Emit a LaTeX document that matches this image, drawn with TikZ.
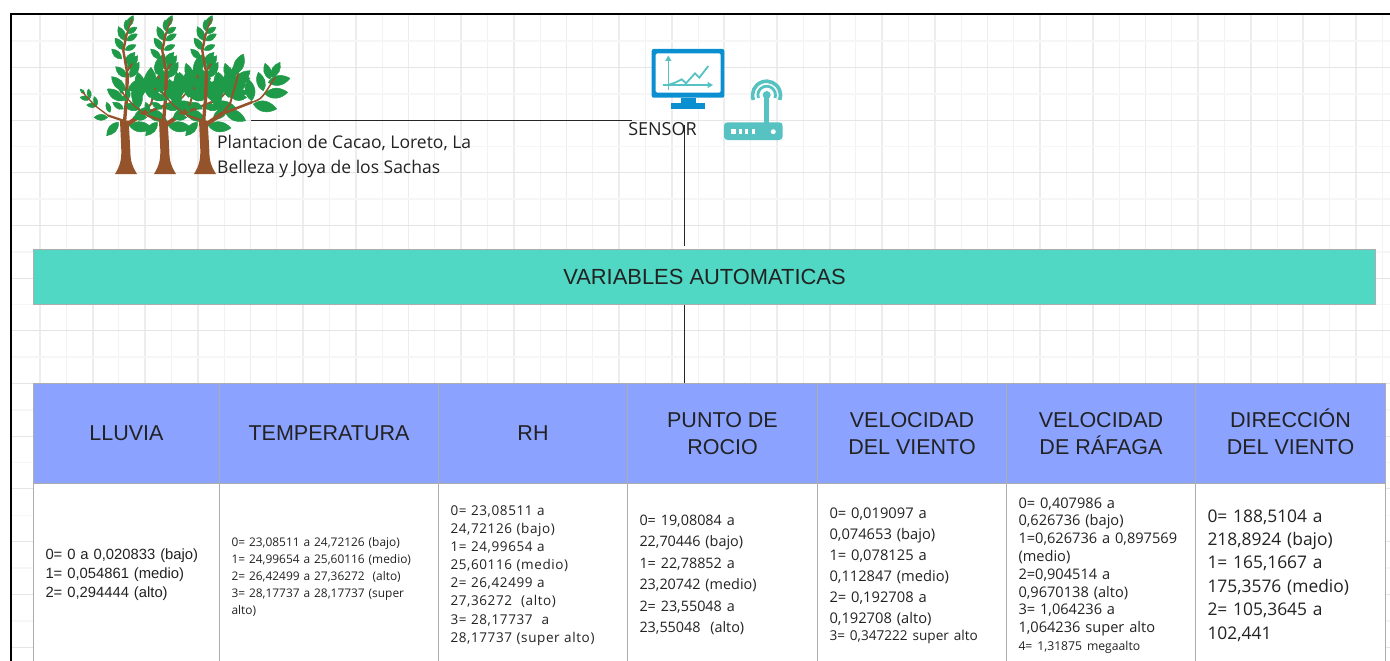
\documentclass[tikz,border=0pt]{standalone}
\usepackage{fontspec}
\setmainfont{Open Sans}
\newfontfamily\hfont{Liberation Sans}
\newfontfamily\bfont{Open Sans}
\newfontfamily\bwide[LetterSpace=4.5]{Open Sans}
\newcommand\fs[2]{\fontsize{#1pt}{#2pt}\selectfont}
\definecolor{leafc}{HTML}{1F9A48}
\definecolor{trunkc}{HTML}{95532B}
\definecolor{teal}{HTML}{50D8C5}
\definecolor{headc}{HTML}{8BA3FF}
\definecolor{edgec}{HTML}{ADADAD}
\definecolor{monc}{HTML}{0A8FD0}
\definecolor{routc}{HTML}{56C2C2}
\definecolor{txtc}{HTML}{222222}
\newcommand\lf[4]{%
  \pgfmathsetmacro\lfang{atan2(-(#4-(#2)),(#3-(#1)))}%
  \pgfmathsetmacro\lflen{veclen((#3-(#1)),(#4-(#2)))}%
  \filldraw[leafc,line width=.5pt,shift={(#1,#2)},rotate=\lfang,scale=\lflen]
    (0,0) .. controls (.3,.33) and (.7,.26) .. (1,0) .. controls (.7,-.26) and (.3,-.33) .. (0,0);}
\newcommand\cacao[1]{%
\begin{scope}[shift={(#1,174)},scale=.3333,line cap=round,line join=round]
  \lf{2}{-440}{22}{-475}\lf{2}{-430}{0}{-462}\lf{2}{-422}{33}{-440}
  \lf{-3}{-400}{-23}{-442}\lf{2}{-400}{34}{-420}\lf{-6}{-372}{-33}{-408}
  \lf{-3}{-372}{30}{-387}\lf{-13}{-345}{-43}{-375}\lf{-3}{-330}{27}{-365}
  \lf{5}{-315}{35}{-355}\lf{2}{-290}{-31}{-322}\lf{12}{-290}{39}{-335}
  \lf{-3}{-250}{-43}{-292}\lf{7}{-250}{52}{-283}\lf{-8}{-220}{-56}{-255}
  \lf{-3}{-205}{42}{-195}\lf{-8}{-195}{-40}{-215}
  \lf{-55}{-170}{-96}{-170}\lf{-48}{-185}{-58}{-215}\lf{-88}{-205}{-118}{-207}
  \lf{-88}{-205}{-95}{-232}\lf{-108}{-225}{-138}{-230}\lf{-108}{-228}{-113}{-255}
  \lf{-123}{-240}{-138}{-255}\lf{-23}{-155}{-58}{-115}
  \lf{10}{-145}{78}{-138}\lf{60}{-190}{122}{-160}\lf{145}{-210}{215}{-195}
  \lf{140}{-220}{130}{-285}\lf{175}{-250}{160}{-305}\lf{180}{-240}{248}{-245}
  \lf{190}{-275}{255}{-287}\lf{200}{-290}{225}{-335}\lf{195}{-285}{180}{-332}
  \lf{90}{-300}{115}{-360}\lf{85}{-265}{135}{-310}\lf{75}{-250}{125}{-270}
  \lf{80}{-230}{125}{-230}\lf{70}{-230}{75}{-320}\lf{50}{-235}{35}{-305}
  \lf{25}{-165}{70}{-200}\lf{40}{-200}{25}{-270}
  \fill[trunkc] (-33,0) .. controls (-18,-25) and (-14,-40) .. (-14,-70) -- (-18,-160)
     -- (8,-160) -- (13,-70) .. controls (13,-40) and (18,-25) .. (33,0) -- cycle;
  \draw[trunkc,line width=3.4pt] (-5,-150) -- (2,-230) -- (4,-300);
  \draw[trunkc,line width=2.4pt] (4,-300) -- (-8,-370) -- (2,-420);
  \draw[trunkc,line width=1.4pt] (2,-420) -- (18,-465);
  \draw[trunkc,line width=1.8pt] (5,-310) -- (18,-330);
  \draw[trunkc,line width=2.2pt] (-8,-160) -- (-53,-175);
  \draw[trunkc,line width=1.3pt] (-53,-175) -- (-93,-205) -- (-130,-245);
  \draw[trunkc,line width=4.2pt] (-2,-145) -- (50,-180);
  \draw[trunkc,line width=2.6pt] (50,-180) -- (140,-215);
  \draw[trunkc,line width=1.6pt] (140,-215) .. controls (170,-225) .. (210,-290);
  \draw[trunkc,line width=2pt] (50,-180) -- (75,-210) -- (100,-300);
\end{scope}}
\tikzset{
  x=1pt,y=-1pt,
  gridthick/.style={line width=1.8pt,draw=black!7},
  gridthin/.style={line width=1pt,draw=black!5},
  griddark/.style={line width=1pt,draw=black!10},
  gridpale/.style={line width=1.6pt,draw=black!3.5},
  frameline/.style={line width=2.4pt,draw=black},
  connector/.style={line width=.9pt,draw=black!85},
  banner/.style={draw=edgec,line width=1pt,fill=teal,inner sep=0pt,anchor=north west,text=txtc,font=\hfont\fs{21.9}{26}},
  headcell/.style={draw=edgec,line width=1pt,fill=headc,inner sep=0pt,anchor=north west,text=txtc,align=center,minimum height=100pt,font=\hfont\fs{21.5}{27}},
  bodycell/.style={draw=edgec,line width=1pt,fill=white,inner xsep=12pt,inner ysep=0pt,anchor=north west,text=txtc,align=left,minimum height=182pt},
  label/.style={inner sep=0pt,anchor=north west,text=txtc,align=left,font=\bfont\fs{17.5}{25}},
}
\begin{document}
\begin{tikzpicture}
\useasboundingbox (0,0) rectangle (1390,661);
% grid
\foreach \k in {0,2,...,50} \draw[gridthick] ({40+26.32*\k},15) -- ({40+26.32*\k},661);
\foreach \k in {1,3,...,51} \draw[gridthin] ({40+26.32*\k},15) -- ({40+26.32*\k},661);
\foreach \k in {0,2,...,22} \draw[gridpale] (12,{41+26.35*\k}) -- (1390,{41+26.35*\k});
\foreach \k in {1,3,...,23} \draw[griddark] (12,{41+26.35*\k}) -- (1390,{41+26.35*\k});
% frame
\draw[frameline] (10,14) -- (1390,14);
\draw[frameline] (11,14) -- (11,661);
% trees
\cacao{126}\cacao{165}\cacao{205}
% monitor
\fill[monc,rounded corners=2pt] (651.7,49) rectangle (724.3,97.7);
\fill[white,rounded corners=1.5pt] (655.7,53.3) rectangle (720.7,92.7);
\fill[monc] (681,97.7) rectangle (696,103);
\fill[monc] (670.7,103) rectangle (705.3,108.7);
\draw[routc,line width=1.5pt] (668.3,90) -- (668.3,59);
\fill[routc] (668.3,55.5) -- (671.5,61) -- (665.1,61) -- cycle;
\draw[routc,line width=1.5pt] (663,85) -- (709,85);
\fill[routc] (713,85) -- (707.5,81.8) -- (707.5,88.2) -- cycle;
\draw[routc,line width=1.8pt] (668,85) -- (675,82.7) -- (681.7,79.3) -- (686,83.3) -- (695,73.3) -- (699.3,77.7) -- (708.3,66);
% router
\fill[routc,rounded corners=3.5pt] (724,122.3) rectangle (782.7,140);
\draw[routc,line width=5pt] (766.7,95) -- (766.7,124);
\draw[routc,line width=3.6pt] (753.4,100) arc (160:380:14);
\draw[routc,line width=2.8pt] (758.4,98) arc (160:380:8.8);
\fill[routc] (766.7,95) circle (4);
\fill[white] (731,129) rectangle (736,134);
\fill[white] (738.5,129) rectangle (741.5,134);
\fill[white] (745,129) rectangle (748,134);
\fill[white] (752,129) rectangle (755,134);
\fill[white] (773.3,131.7) circle (2.5);
% labels
\node[label] (plantacion) at (217,135) {Plantacion de Cacao, Loreto, La\\Belleza y Joya de los Sachas};
\node[label,anchor=center,font=\bfont\fs{18}{25}] (sensor) at (662.5,129) {SENSOR};
\coordinate (treeout) at (251,120.5);
\coordinate (sensorin) at (632,120.5);
\coordinate (sensorout) at (684.5,125);
% banner
\node[banner,minimum width=1342pt,minimum height=55pt] (bar) at (33,249) {VARIABLES AUTOMATICAS};
% header row
\node[headcell,minimum width=186pt] (h1) at (33,383) {LLUVIA};
\node[headcell,minimum width=219pt] (h2) at (219,383) {TEMPERATURA};
\node[headcell,minimum width=189pt] (h3) at (438,383) {RH};
\node[headcell,minimum width=190pt] (h4) at (627,383) {PUNTO DE\\ROCIO};
\node[headcell,minimum width=189pt] (h5) at (817,383) {VELOCIDAD\\DEL VIENTO};
\node[headcell,minimum width=189pt] (h6) at (1006,383) {VELOCIDAD\\DE RÁFAGA};
\node[headcell,minimum width=190pt] (h7) at (1195,383) {DIRECCI\smash{Ó}N\\DEL VIENTO};
% body row
\node[bodycell,text width=162pt,font=\hfont\fs{14.8}{19}] (b1) at (33,483)
 {0= 0 a 0,020833 (bajo)\\1= 0,054861 (medio)\\2= 0,294444 (alto)};
\node[bodycell,text width=195pt,minimum height=186pt,font=\bfont\fs{11.9}{17}] (b2) at (219,483)
 {0= 23,08511 a 24,72126 (bajo)\\1= 24,99654 a 25,60116 (medio)\\2= 26,42499 a 27,36272 \ (alto)\\3= 28,17737 a 28,17737 (super\\alto)};
\node[bodycell,text width=165pt,minimum height=184pt,font=\bwide\fs{13.5}{18.1}] (b3) at (438,483)
 {0= 23,08511 a\\24,72126 (bajo)\\1= 24,99654 a\\25,60116 (medio)\\2= 26,42499 a\\27,36272 \ (alto)\\3= 28,17737 \ a\\28,17737 (super alto)};
\node[bodycell,text width=166pt,minimum height=183pt,font=\bfont\fs{14.4}{21.4}] (b4) at (627,483)
 {0= 19,08084 a\\22,70446 (bajo)\\1= 22,78852 a\\23,20742 (medio)\\2= 23,55048 a\\23,55048 \ (alto)};
\node[bodycell,text width=165pt,minimum height=184pt,font=\bfont\fs{14.7}{21}] (b5) at (817,483)
 {0= 0,019097 a\\0,074653 (bajo)\\1= 0,078125 a\\0,112847 (medio)\\2= 0,192708 a\\0,192708 (alto)\\[-4pt]{\fs{13.6}{17}3= 0,347222 super alto}};
\node[bodycell,text width=165pt,minimum height=184pt,font=\bfont\fs{14.6}{17.8}] (b6) at (1006,483)
 {0= 0,407986 a\\0,626736 (bajo)\\1=0,626736 a 0,897569\\(medio)\\2=0,904514 a\\0,9670138 (alto)\\3= 1,064236 a\\1,064236 super alto\\{\fs{12.2}{17}4= 1,31875 megaalto}};
\node[bodycell,text width=166pt,minimum height=184pt,font=\bfont\fs{17.4}{23.4}] (b7) at (1195,483)
 {0= 188,5104 a\\218,8924 (bajo)\\1= 165,1667 a\\175,3576 (medio)\\2= 105,3645 a\\102,441};
% connectors
\draw[connector] (treeout) -- (sensorin);
\draw[connector,shorten >=3pt] (sensorout) -- (sensorout |- bar.north);
\draw[connector] (sensorout |- bar.south) -- (sensorout |- h4.north);
\end{tikzpicture}
\end{document}
